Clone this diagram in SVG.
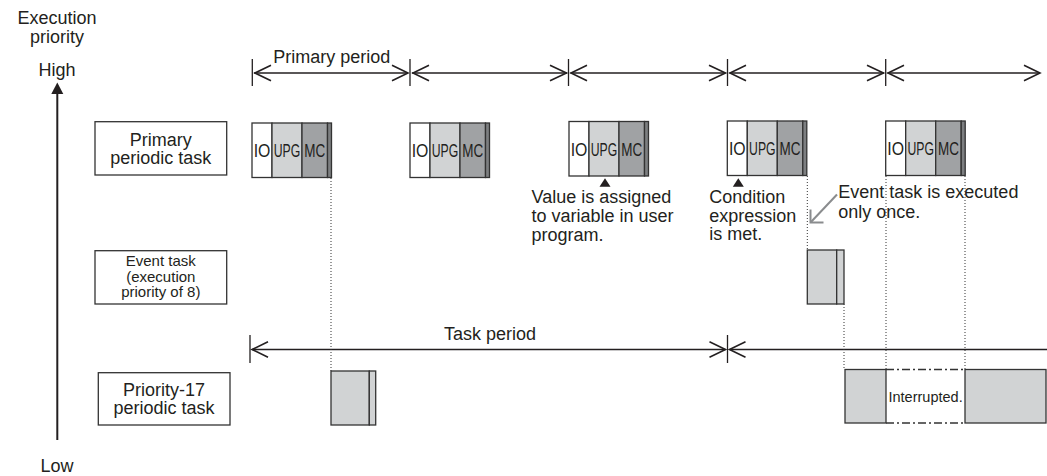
<svg xmlns="http://www.w3.org/2000/svg" width="1047" height="476" viewBox="0 0 1047 476">
<style>
text{font-family:"Liberation Sans",Arial,sans-serif;fill:#231f20}
.t18{font-size:18px}
.t15{font-size:15px}
.mid{text-anchor:middle}
.box{fill:#fff;stroke:#333;stroke-width:1.3}
.io{fill:#fff;stroke:#333;stroke-width:1.3}
.upg{fill:#d1d3d4;stroke:#333;stroke-width:1.3}
.mc{fill:#a0a2a4;stroke:#333;stroke-width:1.3}
.st{fill:#7d7f81;stroke:#333;stroke-width:1.3}
.gb{fill:#d1d3d4;stroke:#333;stroke-width:1.3}
.bt{font-size:18px;text-anchor:middle}
.ln{stroke:#231f20;stroke-width:1.6;fill:none}
.tick{stroke:#231f20;stroke-width:1.3;fill:none}
.dot{stroke:#333;stroke-width:1;stroke-dasharray:1,2;fill:none}
.dd{stroke:#333;stroke-width:1.3;stroke-dasharray:8,3,2,3;fill:none}
</style>

<!-- axis -->
<g id="axis">
<line x1="57.3" y1="92" x2="57.3" y2="440" stroke="#231f20" stroke-width="2"/>
<path d="M57.3,82.5 L63.3,94 L51.3,94 Z" fill="#231f20"/>
<text class="t18 mid" x="57" y="24">Execution</text>
<text class="t18 mid" x="57" y="43">priority</text>
<text class="t18 mid" x="57" y="75.5">High</text>
<text class="t18 mid" x="57" y="471.5">Low</text>
</g>

<!-- row labels -->
<g id="label-primary">
<rect class="box" x="95" y="121.7" width="131.7" height="53.3"/>
<text class="t18 mid" x="160.8" y="145.6">Primary</text>
<text class="t18 mid" x="160.8" y="164">periodic task</text>
</g>
<g id="label-event">
<rect class="box" x="95" y="250.7" width="131.7" height="53.3"/>
<text class="t15 mid" x="160.8" y="266">Event task</text>
<text class="t15 mid" x="160.8" y="281.7">(execution</text>
<text class="t15 mid" x="160.8" y="297.3">priority of 8)</text>
</g>
<g id="label-p17">
<rect class="box" x="98.3" y="372.7" width="131.7" height="52.3"/>
<text class="t18 mid" x="164" y="396">Priority-17</text>
<text class="t18 mid" x="164" y="414.3">periodic task</text>
</g>

<!-- primary periodic task blocks -->
<g id="ppt1">
<rect class="io" x="252" y="123" width="20" height="54.5"/>
<rect class="upg" x="272" y="123" width="30" height="54.5"/>
<rect class="mc" x="302" y="123" width="25.5" height="54.5"/>
<rect class="st" x="327.5" y="123" width="4" height="54.5"/>
<text class="bt" transform="translate(262,157) scale(0.88,1)">IO</text>
<text class="bt" transform="translate(287,157) scale(0.68,1)">UPG</text>
<text class="bt" transform="translate(314.7,157) scale(0.75,1)">MC</text>
</g>
<g id="ppt2">
<rect class="io" x="410" y="123" width="20" height="54.5"/>
<rect class="upg" x="430" y="123" width="30" height="54.5"/>
<rect class="mc" x="460" y="123" width="25.5" height="54.5"/>
<rect class="st" x="485.5" y="123" width="4" height="54.5"/>
<text class="bt" transform="translate(420,157) scale(0.88,1)">IO</text>
<text class="bt" transform="translate(445,157) scale(0.68,1)">UPG</text>
<text class="bt" transform="translate(472.7,157) scale(0.75,1)">MC</text>
</g>
<g id="ppt3">
<rect class="io" x="569" y="121.5" width="20" height="54.5"/>
<rect class="upg" x="589" y="121.5" width="30" height="54.5"/>
<rect class="mc" x="619" y="121.5" width="25.5" height="54.5"/>
<rect class="st" x="644.5" y="121.5" width="4" height="54.5"/>
<text class="bt" transform="translate(579,155.5) scale(0.88,1)">IO</text>
<text class="bt" transform="translate(604,155.5) scale(0.68,1)">UPG</text>
<text class="bt" transform="translate(631.7,155.5) scale(0.75,1)">MC</text>
</g>
<g id="ppt4">
<rect class="io" x="727.3" y="121" width="20" height="54.5"/>
<rect class="upg" x="747.3" y="121" width="30" height="54.5"/>
<rect class="mc" x="777.3" y="121" width="25.5" height="54.5"/>
<rect class="st" x="802.8" y="121" width="4" height="54.5"/>
<text class="bt" transform="translate(737.3,155) scale(0.88,1)">IO</text>
<text class="bt" transform="translate(762.3,155) scale(0.68,1)">UPG</text>
<text class="bt" transform="translate(790,155) scale(0.75,1)">MC</text>
</g>
<g id="ppt5">
<rect class="io" x="885.7" y="121" width="20" height="54.5"/>
<rect class="upg" x="905.7" y="121" width="30" height="54.5"/>
<rect class="mc" x="935.7" y="121" width="25.5" height="54.5"/>
<rect class="st" x="961.2" y="121" width="4" height="54.5"/>
<text class="bt" transform="translate(895.7,155) scale(0.88,1)">IO</text>
<text class="bt" transform="translate(920.7,155) scale(0.68,1)">UPG</text>
<text class="bt" transform="translate(948.4,155) scale(0.75,1)">MC</text>
</g>

<!-- event task block -->
<g id="event-block">
<rect class="gb" x="807.3" y="250" width="29.4" height="54"/>
<rect class="gb" x="836.7" y="250" width="7.3" height="54"/>
</g>

<!-- priority-17 blocks -->
<g id="p17-1">
<rect class="gb" x="331" y="371" width="38.3" height="54"/>
<rect class="gb" x="369.3" y="371" width="6.4" height="54"/>
</g>
<g id="p17-2">
<rect class="gb" x="845" y="369.5" width="41" height="53.5"/>
</g>
<g id="p17-interrupted">
<line class="dd" x1="886" y1="369.5" x2="965" y2="369.5"/>
<line class="dd" x1="886" y1="423" x2="965" y2="423"/>
<text class="mid" x="925.6" y="401.7" font-size="14.5">Interrupted.</text>
</g>
<g id="p17-3">
<rect class="gb" x="965" y="369.5" width="81" height="53.5"/>
</g>

<!-- connectors -->
<g id="connectors">
<g class="tick">
<line x1="252.3" y1="59" x2="252.3" y2="86"/>
<line x1="410" y1="59" x2="410" y2="86"/>
<line x1="568.5" y1="59" x2="568.5" y2="86"/>
<line x1="727.5" y1="59" x2="727.5" y2="86"/>
<line x1="885.7" y1="59" x2="885.7" y2="86"/>
</g>
<g class="ln">
<line x1="254" y1="73" x2="408" y2="73"/>
<path d="M271,65.2 L255,73 L271,80.8 M392,65.2 L408,73 L392,80.8"/>
<line x1="412" y1="73" x2="567" y2="73"/>
<path d="M429,65.2 L413,73 L429,80.8 M550,65.2 L566.5,73 L550,80.8"/>
<line x1="570.5" y1="73" x2="725.5" y2="73"/>
<path d="M587,65.2 L571,73 L587,80.8 M709,65.2 L725.5,73 L709,80.8"/>
<line x1="729.5" y1="73" x2="884" y2="73"/>
<path d="M746,65.2 L730,73 L746,80.8 M867,65.2 L883.5,73 L867,80.8"/>
<line x1="887.5" y1="73" x2="1040" y2="73"/>
<path d="M904,65.2 L888,73 L904,80.8 M1024,65.2 L1040,73 L1024,80.8"/>
</g>
<g class="tick">
<line x1="250" y1="335" x2="250" y2="363"/>
<line x1="727.5" y1="335" x2="727.5" y2="363"/>
</g>
<g class="ln">
<line x1="252" y1="349.5" x2="725.5" y2="349.5"/>
<path d="M268,341.7 L252,349.5 L268,357.3 M709.5,341.7 L725.5,349.5 L709.5,357.3"/>
<line x1="729.5" y1="349.5" x2="1047" y2="349.5"/>
<path d="M745.5,341.7 L729.5,349.5 L745.5,357.3"/>
</g>
<line class="dot" x1="331" y1="178" x2="331" y2="371"/>
<line class="dot" x1="807.3" y1="176" x2="807.3" y2="250"/>
<line class="dot" x1="844" y1="304" x2="844" y2="369.5"/>
<line class="dot" x1="886" y1="176" x2="886" y2="369.5"/>
<line class="dot" x1="965" y1="176" x2="965" y2="369.5"/>
<path d="M605,178.3 L610.5,186.7 L599.5,186.7 Z" fill="#231f20"/>
<path d="M738.3,178.3 L743.8,186.7 L732.8,186.7 Z" fill="#231f20"/>
<g stroke="#8a8c8e" stroke-width="2" fill="none">
<line x1="837" y1="194.5" x2="811" y2="222"/>
<path d="M810.5,209.5 L810.5,222.5 L823.5,222.5"/>
</g>
</g>

<!-- annotations -->
<g id="annotations">
<text class="t18" x="531.5" y="203">Value is assigned</text>
<text class="t18" x="531.5" y="222">to variable in user</text>
<text class="t18" x="531.5" y="241">program.</text>
<text class="t18" x="709.3" y="203">Condition</text>
<text class="t18" x="709.3" y="221.5">expression</text>
<text class="t18" x="709.3" y="240">is met.</text>
<text class="t18" x="838.3" y="198.3">Event task is executed</text>
<text class="t18" x="838.3" y="217.5">only once.</text>
<text class="t18 mid" x="331.7" y="62.7">Primary period</text>
<text class="t18 mid" x="490" y="340.4">Task period</text>
</g>
</svg>
